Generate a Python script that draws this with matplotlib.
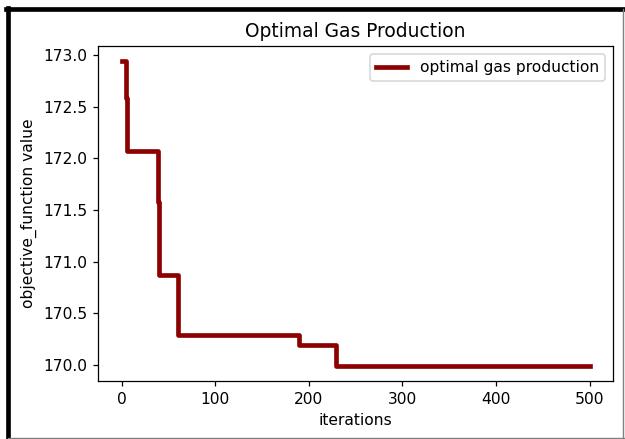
"""
Optimal gas production - objective value per iteration
"""

import matplotlib
matplotlib.use('Agg')
import matplotlib.pyplot as plt
from matplotlib.lines import Line2D

# step breakpoints of the best objective value found so far
iterations = [0, 5, 6, 39, 40, 60, 190, 229, 500]
objective = [172.94, 172.58, 172.07, 171.58, 170.87, 170.29, 170.19, 169.99, 169.99]

DPI = 112
fig = plt.figure(figsize=(625 / DPI, 439 / DPI), dpi=DPI)
ax = fig.add_axes([0.157, 0.132, 0.824, 0.763])

ax.step(iterations, objective, where='post', color='darkred', linewidth=3,
        label='optimal gas production')
ax.set_title('Optimal Gas Production')
ax.set_xlabel('iterations')
ax.set_ylabel('objective_function value')
ax.legend(loc='upper right')

# screenshot-style frame round the figure
fig.add_artist(Line2D([0.012, 0.012], [0.003, 0.982], color='black', linewidth=3,
                      transform=fig.transFigure))
fig.add_artist(Line2D([0.009, 1.0], [0.979, 0.979], color='black', linewidth=3,
                      transform=fig.transFigure))
fig.add_artist(Line2D([0.997, 0.997], [0.002, 0.979], color='gray', linewidth=0.9,
                      transform=fig.transFigure))
fig.add_artist(Line2D([0.012, 1.0], [0.003, 0.003], color='gray', linewidth=0.9,
                      transform=fig.transFigure))

fig.savefig('out.png', dpi=DPI)
